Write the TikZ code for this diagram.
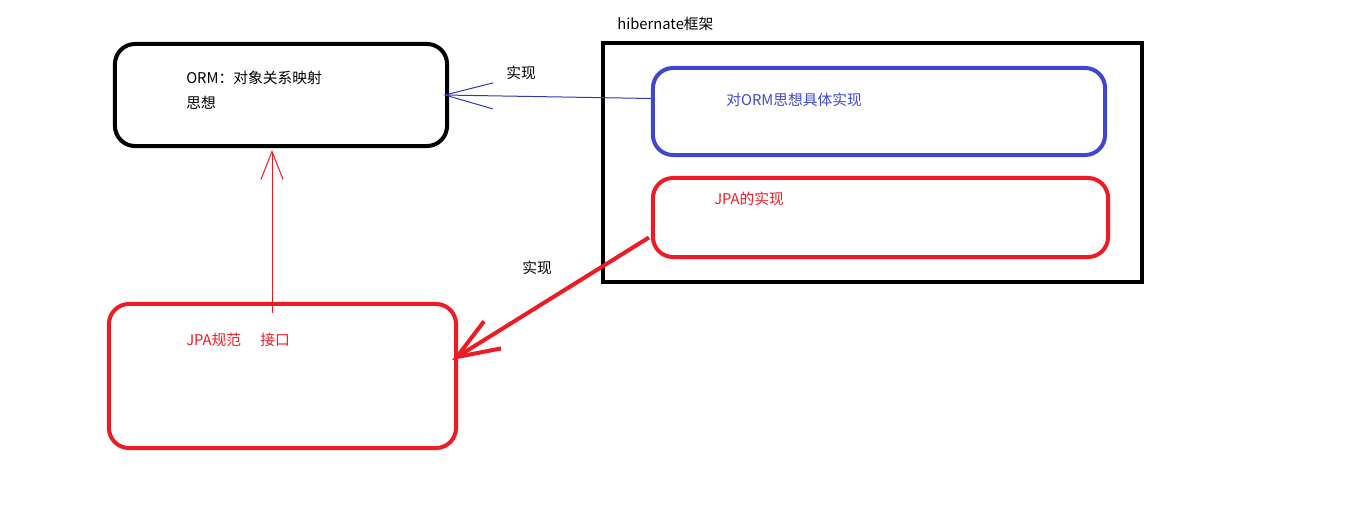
\documentclass[tikz,border=0pt]{standalone}
\usepackage{fontspec}
\setmainfont{Noto Sans CJK SC}
\usetikzlibrary{arrows.meta,calc,positioning}
\definecolor{pblue}{RGB}{63,72,204}
\definecolor{pline}{RGB}{48,58,170}
\definecolor{pred}{RGB}{237,28,36}
\tikzset{
  rbox/.style={draw,line width=0.1cm,rounded corners=0.5cm,inner sep=0pt},
  lbl/.style={anchor=west,inner sep=0pt,font=\fontsize{10.5pt}{12pt}\selectfont},
}

\begin{document}
\begin{tikzpicture}[x=0.025cm,y=-0.025cm]
  \useasboundingbox (0,0) rectangle (1347,532);
  \node[rbox,minimum width=8.3cm,minimum height=2.55cm] (orm) at (281,95) {};
  \node[draw,line width=0.1cm,inner sep=0pt,minimum width=13.475cm,minimum height=5.975cm] (frame) at (872.5,162.5) {};
  \node[rbox,pblue,minimum width=11.3cm,minimum height=2.175cm] (impl) at (879,111.5) {};
  \node[rbox,pred,minimum width=11.375cm,minimum height=1.975cm] (jpaimpl) at (880.5,217.5) {};
  \node[rbox,pred,minimum width=8.675cm,minimum height=3.6cm] (jpa) at (282.5,376) {};
  \node[lbl] (ormtxt) at (186,78) {ORM：对象关系映射};
  \node[lbl] (ormtxtb) at (186,103) {思想};
  \node[lbl] (frametxt) at (617,24) {hibernate框架};
  \node[lbl,pblue] (impltxt) at (726,100) {对ORM思想具体实现};
  \node[lbl,pred] (jpaimpltxt) at (714,199) {JPA的实现};
  \node[lbl,pred] (jpatxt) at (186,340) {JPA规范\hspace{1.3em}接口};
  \node[lbl] (realtop) at (506,73) {实现};
  \node[lbl] (realbot) at (522,268) {实现};
  \draw[pline,line width=0.025cm,-{Straight Barb[length=1.2cm,width=0.65cm]}]
    ($(impl.west)+(0,-13)$) -- ($(orm.east)+(-6,0)$);
  \draw[pred,line width=0.025cm,-{Straight Barb[length=0.7cm,width=0.55cm]}]
    ($(jpa.north)+(-10.5,11)$) -- ($(orm.south)+(-9,2)$);
  \draw[pred,line width=0.1cm,-{Straight Barb[length=1.05cm,width=0.8cm]}]
    ($(jpaimpl.west)+(-2,20)$) -- ($(jpa.east)+(-6,-16)$);
\end{tikzpicture}
\end{document}
